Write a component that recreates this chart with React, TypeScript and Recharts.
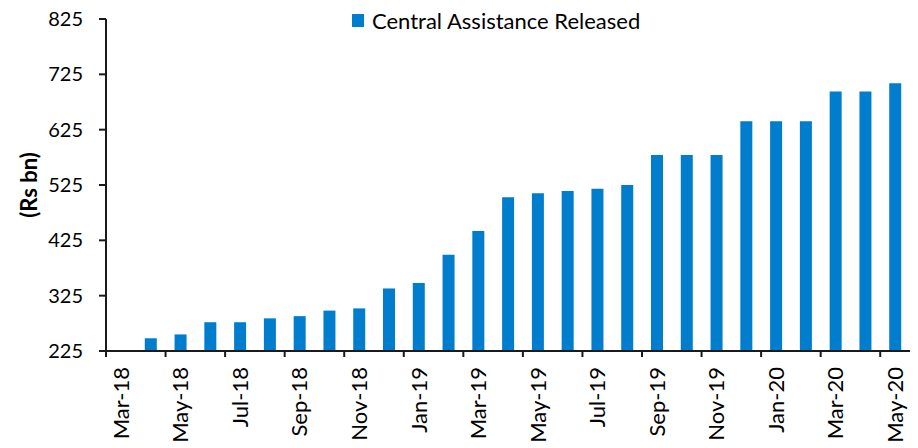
import React from 'react';
import { BarChart, Bar, XAxis, YAxis, Legend, Label } from 'recharts';

const months = [
  'Mar-18', 'Apr-18', 'May-18', 'Jun-18', 'Jul-18', 'Aug-18', 'Sep-18', 'Oct-18', 'Nov-18',
  'Dec-18', 'Jan-19', 'Feb-19', 'Mar-19', 'Apr-19', 'May-19', 'Jun-19', 'Jul-19', 'Aug-19',
  'Sep-19', 'Oct-19', 'Nov-19', 'Dec-19', 'Jan-20', 'Feb-20', 'Mar-20', 'Apr-20', 'May-20',
];
const released: (number | null)[] = [
  null, 248, 255, 277, 277, 284, 288, 298, 302,
  338, 348, 399, 442, 503, 510, 514, 518, 525,
  579, 579, 579, 640, 640, 640, 694, 694, 709,
];
const yTicks = [225, 325, 425, 525, 625, 725, 825];
const seriesName = 'Central Assistance Released';
const yLabel = '(Rs bn)';

const data = months.map((m, i) => ({ month: m, value: released[i] }));

const FONT = 'Lato, "Open Sans", sans-serif';
const BAR_COLOR = '#007DCD';
const AXIS_COLOR = '#1a1a1a';

const XTick = (props: any) => {
  const { x, y, payload, index } = props;
  const idx = payload && typeof payload.index === 'number' ? payload.index : index;
  if (idx % 2 !== 0) return null;
  const off = payload && payload.offset ? payload.offset : 804 / 27 / 2;
  return (
    <g>
      <line x1={x - off} x2={x - off} y1={y - 16} y2={y - 10} stroke={AXIS_COLOR} strokeWidth={2} />
      <text
        x={x}
        y={y}
        transform={`rotate(-90 ${x} ${y})`}
        textAnchor="end"
        dy="0.36em"
        fontSize={22}
        fontFamily={FONT}
        fill="#000"
      >
        {payload.value}
      </text>
    </g>
  );
};

const renderYLabel = (props: any) => {
  const vb = props.viewBox || { x: 0, y: 19, width: 106, height: 332 };
  const cx = vb.x + 28;
  const cy = vb.y + vb.height / 2;
  return (
    <text
      x={cx}
      y={cy}
      transform={`rotate(-90 ${cx} ${cy})`}
      textAnchor="middle"
      dominantBaseline="central"
      fontSize={22}
      fontWeight="bold"
      fontFamily={FONT}
      fill="#000"
    >
      {yLabel}
    </text>
  );
};

const renderLegend = () => (
  <div style={{ display: 'flex', alignItems: 'center', fontFamily: FONT, fontSize: 22, color: '#000', whiteSpace: 'nowrap' }}>
    <span style={{ display: 'inline-block', width: 12, height: 13, background: BAR_COLOR, marginRight: 8 }} />
    <span>{seriesName}</span>
  </div>
);

export default function App() {
  return (
    <div style={{ position: 'absolute', left: 0, top: 0 }}>
      <BarChart width={918} height={448} data={data} margin={{ top: 19, right: 8, bottom: 0, left: 0 }}>
        <XAxis
          dataKey="month"
          interval={0}
          height={97}
          tickLine={false}
          tickSize={6}
          tickMargin={10}
          axisLine={{ stroke: AXIS_COLOR, strokeWidth: 2 }}
          tick={<XTick />}
        />
        <YAxis
          type="number"
          domain={[225, 825]}
          ticks={yTicks}
          interval={0}
          width={106}
          allowDataOverflow
          tickSize={7}
          tickMargin={16}
          axisLine={{ stroke: AXIS_COLOR, strokeWidth: 2 }}
          tickLine={{ stroke: AXIS_COLOR, strokeWidth: 2 }}
          tick={{ fontSize: 20, fill: '#000', fontFamily: FONT }}
          label={<Label content={renderYLabel} />}
        />
        <Legend
          verticalAlign="middle"
          align="center"
          content={renderLegend}
          wrapperStyle={{ position: 'absolute', left: 352, top: 7, width: 'auto', height: 'auto' }}
        />
        <Bar dataKey="value" name={seriesName} fill={BAR_COLOR} barSize={12} isAnimationActive={false} />
      </BarChart>
    </div>
  );
}
